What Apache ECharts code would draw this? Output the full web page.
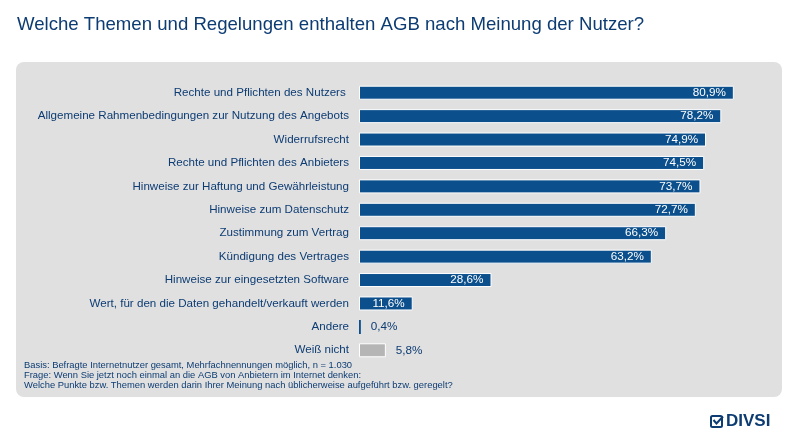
<!DOCTYPE html>
<html><head><meta charset="utf-8">
<script src="https://cdn.jsdelivr.net/npm/echarts@6/dist/echarts.min.js"></script>
<style>html,body{margin:0;padding:0;background:#fff}#c{width:800px;height:440px}</style>
</head><body><div id="c"></div>
<script>
const categories = [
  "Rechte und Pflichten des Nutzers ",
  "Allgemeine Rahmenbedingungen zur Nutzung des Angebots",
  "Widerrufsrecht",
  "Rechte und Pflichten des Anbieters",
  "Hinweise zur Haftung und Gewährleistung",
  "Hinweise zum Datenschutz",
  "Zustimmung zum Vertrag",
  "Kündigung des Vertrages",
  "Hinweise zur eingesetzten Software",
  "Wert, für den die Daten gehandelt/verkauft werden",
  "Andere",
  "Weiß nicht"
];
const values = [80.9, 78.2, 74.9, 74.5, 73.7, 72.7, 66.3, 63.2, 28.6, 11.6, 0.4, 5.8];
const title = "Welche Themen und Regelungen enthalten AGB nach Meinung der Nutzer?";
const notes = [
  "Basis: Befragte Internetnutzer gesamt, Mehrfachnennungen möglich, n = 1.030",
  "Frage: Wenn Sie jetzt noch einmal an die AGB von Anbietern im Internet denken:",
  "Welche Punkte bzw. Themen werden darin Ihrer Meinung nach üblicherweise aufgeführt bzw. geregelt?"
];

const BLUE = '#0b4f8c', DARK = '#0d3c73', GRAY = '#b5b5b5';
const fmt = v => v.toFixed(1).replace('.', ',') + '%';
const data = values.map((v, i) => {
  const isGray = categories[i] === 'Weiß nicht';
  const tiny = v < 1;
  const outside = v < 8;
  return {
    value: v,
    itemStyle: { color: isGray ? GRAY : BLUE, borderColor: '#ffffff', borderWidth: tiny ? 0 : 1 },
    label: outside
      ? { position: 'right', color: DARK, distance: 10 }
      : { position: 'insideRight', color: '#ffffff', distance: 8 }
  };
});

const chart = echarts.init(document.getElementById('c'));
chart.setOption({
  animation: false,
  backgroundColor: '#ffffff',
  textStyle: { fontFamily: 'Liberation Sans, Arial, sans-serif' },
  graphic: [
    { type: 'rect', shape: { x: 16, y: 62, width: 766, height: 335, r: 8 }, style: { fill: '#e0e0e0' }, z: -10 },
    { type: 'text', left: 17, top: 15, style: { text: title, fill: DARK, font: '18.6px "Liberation Sans", Arial, sans-serif' } },
    ...notes.map((t, i) => ({ type: 'text', left: 24, top: 361 + i * 10, style: { text: t, fill: DARK, font: '9.4px "Liberation Sans", Arial, sans-serif' } })),
    { type: 'rect', shape: { x: 711, y: 416, width: 11, height: 11, r: 1.5 }, style: { fill: 'none', stroke: DARK, lineWidth: 2 } },
    { type: 'polyline', shape: { points: [[713.5, 420], [716.5, 423.5], [723, 416.5]] }, style: { fill: 'none', stroke: DARK, lineWidth: 2 } },
    { type: 'text', left: 726, top: 413, style: { text: 'DIVSI', fill: DARK, font: 'bold 17px "Liberation Sans", Arial, sans-serif' } }
  ],
  grid: { left: 359, top: 81, width: 417, height: 281, containLabel: false },
  xAxis: { type: 'value', min: 0, max: 90, show: false },
  yAxis: {
    type: 'category', data: categories, inverse: true,
    axisLine: { show: false }, axisTick: { show: false },
    axisLabel: { color: DARK, fontSize: 11.6, margin: 10, fontFamily: 'Liberation Sans, Arial, sans-serif' }
  },
  series: [{
    type: 'bar', data: data, barWidth: 14,
    label: { show: true, fontSize: 11.7, formatter: p => fmt(p.value), fontFamily: 'Liberation Sans, Arial, sans-serif' }
  }]
});
</script></body></html>
